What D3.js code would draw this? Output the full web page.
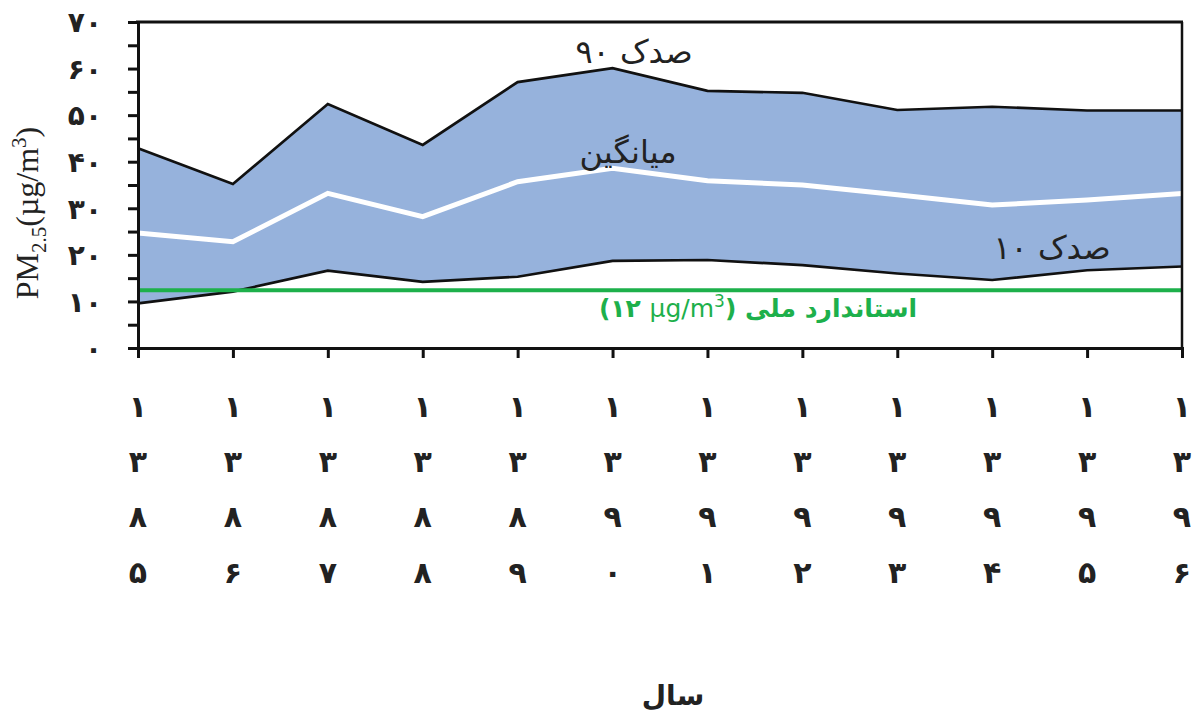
<!DOCTYPE html>
<html><head><meta charset="utf-8">
<script src="https://cdn.jsdelivr.net/npm/d3@7"></script>
<style>body{margin:0;background:#fff}svg{display:block}</style>
</head><body><svg id="c" width="1192" height="713"></svg>
<script>
const years = [1385,1386,1387,1388,1389,1390,1391,1392,1393,1394,1395,1396];
const yearLabels = ["۱۳۸۵","۱۳۸۶","۱۳۸۷","۱۳۸۸","۱۳۸۹","۱۳۹۰","۱۳۹۱","۱۳۹۲","۱۳۹۳","۱۳۹۴","۱۳۹۵","۱۳۹۶"];
const p90  = [42.9,35.2,52.4,43.6,57.1,60.1,55.2,54.8,51.1,51.8,51.0,51.0];
const mean = [24.7,22.8,33.2,28.2,35.7,38.6,35.9,35.0,32.9,30.7,31.8,33.2];
const p10  = [9.6,12.1,16.6,14.2,15.3,18.7,18.9,17.8,16.0,14.6,16.7,17.5];
const standard = [12.4,12.4];
const yTicks = [0,10,20,30,40,50,60,70];
const yTickLabels = ["۰","۱۰","۲۰","۳۰","۴۰","۵۰","۶۰","۷۰"];

const svg = d3.select("#c");
const x = d3.scalePoint().domain(years).range([138,1182]);
const y = d3.scaleLinear().domain([0,70]).range([348,22]);
const data = years.map((yr,i)=>({yr, p90:p90[i], mean:mean[i], p10:p10[i]}));

// band
svg.append("path").datum(data)
  .attr("fill","#96b2dc")
  .attr("d", d3.area().x(d=>x(d.yr)).y0(d=>y(d.p10)).y1(d=>y(d.p90)));
// percentile lines
const line = k => d3.line().x(d=>x(d.yr)).y(d=>y(d[k]));
svg.append("path").datum(data).attr("fill","none").attr("stroke","#111").attr("stroke-width",2.7).attr("d",line("p90"));
svg.append("path").datum(data).attr("fill","none").attr("stroke","#111").attr("stroke-width",2.7).attr("d",line("p10"));
svg.append("path").datum(data).attr("fill","none").attr("stroke","#fff").attr("stroke-width",5).attr("d",line("mean"));
// standard line
svg.append("line")
  .attr("x1",x(years[0])).attr("x2",x(years[years.length-1]))
  .attr("y1",y(standard[0])).attr("y2",y(standard[1]))
  .attr("stroke","#1db04b").attr("stroke-width",4);

// frame top/right
svg.append("line").attr("x1",136).attr("x2",1183).attr("y1",y(70)).attr("y2",y(70)).attr("stroke","#111").attr("stroke-width",3);
svg.append("line").attr("x1",1182).attr("x2",1182).attr("y1",y(70)).attr("y2",y(0)).attr("stroke","#111").attr("stroke-width",2.5);

// y axis
const yAxis = d3.axisLeft(y).tickValues(d3.range(0,71,5)).tickSize(10).tickPadding(26)
  .tickFormat(v => { const i = yTicks.indexOf(v); return i>=0 ? yTickLabels[i] : ""; });
const gy = svg.append("g").attr("transform","translate(138,0)").call(yAxis);
gy.select(".domain").attr("stroke","#111").attr("stroke-width",3);
gy.selectAll(".tick line").attr("stroke","#111").attr("stroke-width",3);
gy.selectAll(".tick text").attr("font-family","DejaVu Sans").attr("font-weight","bold")
  .attr("font-size",28).attr("fill","#222").attr("dy","0.35em");

// x axis
const xAxis = d3.axisBottom(x).tickSize(10).tickFormat("");
const gx = svg.append("g").attr("transform","translate(0,348)").call(xAxis);
gx.select(".domain").attr("stroke","#111").attr("stroke-width",3);
gx.selectAll(".tick line").attr("stroke","#111").attr("stroke-width",3);
const rowBase = [417,472,527,583];
years.forEach((yr,i)=>{
  const chars = Array.from(yearLabels[i]);
  chars.forEach((ch,j)=>{
    svg.append("text").attr("x",x(yr)).attr("y",rowBase[j])
      .attr("text-anchor","middle").attr("font-family","DejaVu Sans").attr("font-weight","bold")
      .attr("font-size",30).attr("fill","#222").text(ch);
  });
});

// axis titles
const yt = svg.append("text").attr("transform","translate(38,213) rotate(-90)")
  .attr("text-anchor","middle").attr("font-family","Liberation Serif").attr("font-size",32).attr("fill","#222");
yt.append("tspan").text("PM");
yt.append("tspan").attr("font-size",21).attr("dy",8).text("2.5");
yt.append("tspan").attr("dy",-8).text("(µg/m");
yt.append("tspan").attr("font-size",21).attr("dy",-12).text("3");
yt.append("tspan").attr("dy",12).text(")");

svg.append("text").attr("x",673).attr("y",705).attr("text-anchor","middle")
  .attr("font-family","DejaVu Sans").attr("font-weight","bold").attr("font-size",28).attr("fill","#222").text("سال");

// annotations
const ann = [["صدک ۹۰",634,63],["میانگین",628,163],["صدک ۱۰",1052,259]];
ann.forEach(a=>svg.append("text").attr("x",a[1]).attr("y",a[2]).attr("text-anchor","middle")
  .attr("font-family","DejaVu Sans").attr("font-size",32).attr("fill","#222").text(a[0]));

const st = svg.append("text").attr("x",758).attr("y",317).attr("text-anchor","middle")
  .attr("direction","ltr").attr("font-family","DejaVu Sans").attr("font-size",25).attr("fill","#1db04b");
st.append("tspan").attr("font-weight","bold").text("(۱۲ ");
st.append("tspan").text("µg/m");
st.append("tspan").attr("font-size",17).attr("dy",-10).text("3");
st.append("tspan").attr("dy",10).attr("font-weight","bold").text(") استاندارد ملی");
</script></body></html>
